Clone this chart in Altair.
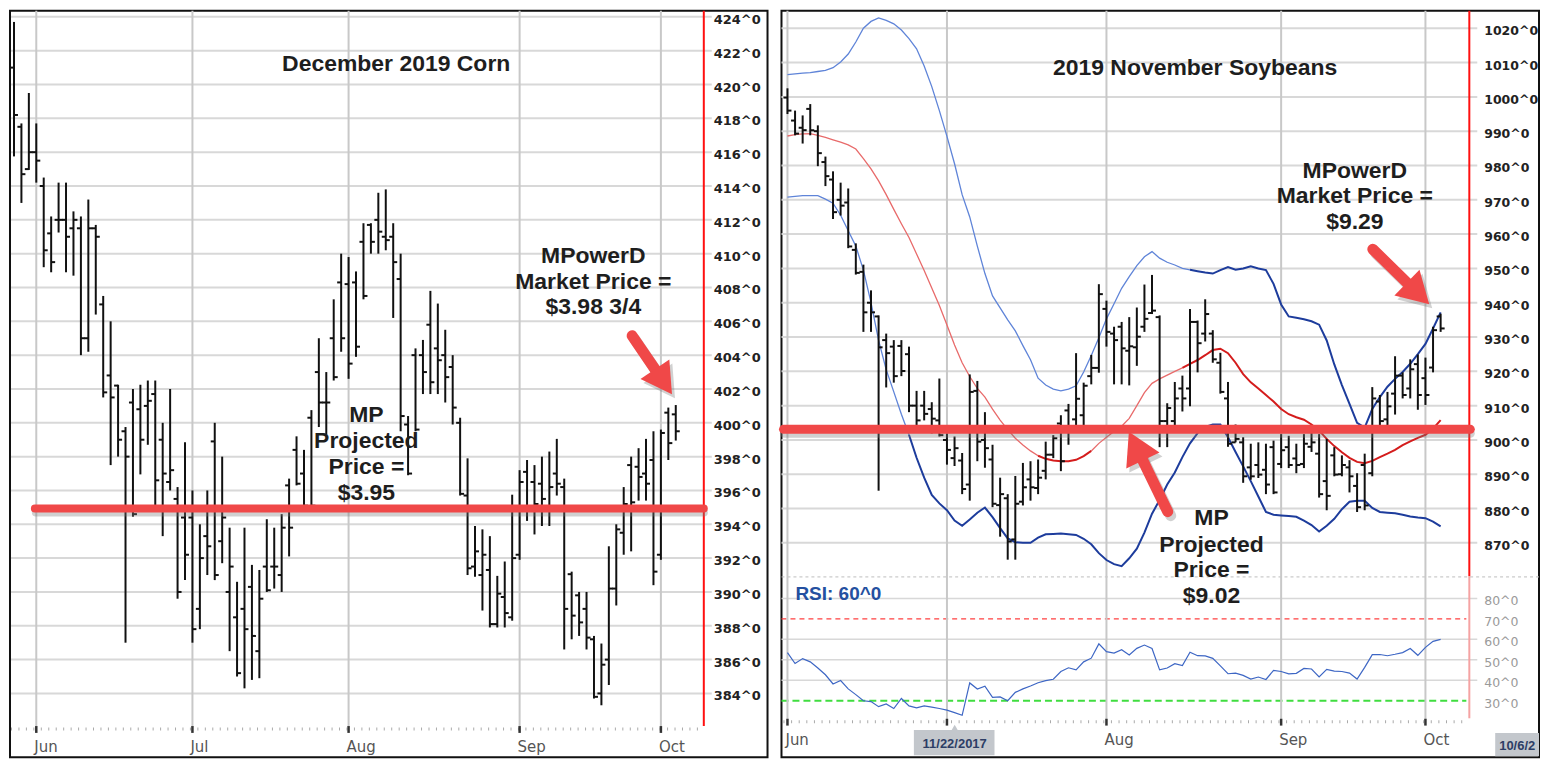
import math
import altair as alt
import pandas as pd

# ----------------------------------------------------------------- data
months = ["Jun", "Jul", "Aug", "Sep", "Oct"]
corn_month_pos = [3, 24, 45, 68, 87]
soy_month_pos = [0, 21, 42, 65, 84]
corn_price_ticks = list(range(384, 425, 2))
soy_price_ticks = list(range(870, 1021, 10))
rsi_ticks = [30, 40, 50, 60, 70, 80]
rsi_grid = [40, 50, 60, 80]
corn_projected = 394.93
soy_projected = 903.1

corn_open = [421.0, 417.5, 415.0, 416.0, 414.0, 411.2, 412.0, 412.0, 411.5, 411.5,
             405.0, 411.5, 407.0, 402.8, 402.2, 399.5, 401.2, 400.8, 401.0, 401.7,
             399.0, 396.5, 395.5, 394.4, 394.4, 389.0, 393.3, 398.9, 393.0, 390.0,
             388.5, 389.0, 390.3, 386.5, 391.5, 391.5, 391.0, 396.3, 398.4, 397.0,
             400.3, 403.0, 401.2, 405.0, 408.3, 408.2, 408.3, 410.7, 411.7, 412.0,
             411.0, 411.0, 408.5, 399.9, 404.0, 404.0, 405.8, 404.4, 404.0, 403.3,
             400.0, 395.7, 391.5, 391.0, 391.3, 388.1, 389.7, 388.5, 392.2, 397.1,
             396.5, 396.4, 395.0, 397.0, 396.2, 391.05, 389.8, 389.0, 387.2, 384.0,
             386.0, 390.2, 393.5, 397.5, 397.4, 397.0, 397.8, 392.2, 400.6, 400.5]
corn_high = [423.7, 417.7, 419.5, 417.7, 414.5, 412.2, 414.2, 414.2, 412.5, 412.2,
             413.2, 411.7, 407.5, 406.0, 402.25, 399.75, 402.0, 402.25, 402.5, 402.5,
             400.0, 402.0, 396.2, 398.85, 396.0, 394.0, 396.0, 400.0, 398.0, 393.8,
             390.6, 393.8, 391.6, 391.3, 394.3, 393.8, 394.6, 396.7, 399.2, 398.4,
             400.75, 405.0, 403.0, 407.3, 410.0, 409.8, 408.95, 411.8, 411.8, 413.6,
             413.8, 411.8, 410.0, 400.4, 404.4, 404.9, 407.8, 407.05, 405.5, 404.0,
             400.3, 397.9, 393.9, 393.7, 393.3, 390.95, 391.8, 395.75, 397.2, 397.8,
             397.5, 398.0, 398.3, 399.05, 396.7, 391.2, 390.0, 390.0, 387.4, 386.95,
             392.7, 394.0, 396.2, 398.0, 398.5, 399.05, 399.5, 399.6, 400.9, 401.05]
corn_low = [415.75, 413.0, 414.95, 414.2, 409.2, 408.9, 411.25, 408.9, 408.7, 404.0,
            404.2, 406.4, 401.5, 397.5, 398.0, 387.0, 394.45, 396.95, 398.7, 395.1,
            393.3, 396.0, 389.6, 390.7, 387.0, 387.8, 391.0, 390.7, 391.7, 386.5,
            385.0, 384.3, 384.8, 384.9, 390.0, 390.2, 390.0, 392.1, 396.3, 395.0,
            395.0, 399.75, 399.3, 402.5, 404.2, 402.6, 403.9, 407.3, 410.0, 410.0,
            410.2, 406.2, 399.5, 396.9, 399.5, 401.7, 401.7, 401.7, 401.2, 399.9,
            395.7, 391.0, 390.9, 388.9, 387.9, 387.9, 387.9, 388.3, 391.9, 394.2,
            393.4, 393.9, 393.9, 395.7, 386.6, 387.2, 387.4, 386.6, 383.7, 383.3,
            384.5, 389.2, 392.2, 392.4, 395.4, 395.4, 390.4, 391.9, 397.8, 398.95]
corn_close = [418.2, 414.7, 416.0, 415.5, 410.2, 409.5, 412.0, 411.0, 412.0, 405.0,
              411.5, 411.0, 401.8, 401.5, 399.0, 398.0, 394.6, 399.0, 401.3, 396.6,
              397.0, 397.2, 390.0, 392.2, 387.8, 392.0, 392.7, 391.0, 394.4, 391.5,
              385.2, 387.8, 387.4, 389.6, 390.1, 391.5, 393.8, 393.8, 396.4, 395.1,
              395.1, 401.2, 401.2, 402.7, 405.0, 403.5, 404.5, 407.5, 410.7, 411.3,
              410.8, 409.5, 400.4, 397.0, 399.6, 403.0, 402.4, 403.7, 402.7, 400.9,
              395.8, 391.4, 392.4, 392.2, 388.1, 389.9, 388.75, 392.0, 396.5, 395.0,
              395.2, 395.5, 396.2, 396.4, 389.0, 388.6, 388.2, 387.3, 383.8, 385.7,
              390.2, 393.7, 395.2, 395.3, 396.8, 396.4, 391.2, 399.4, 398.8, 399.5]

soy_open = [999.8, 993.1, 991.0, 996.5, 990.0, 981.0, 975.9, 970.0, 969.2, 955.4,
            949.0, 940.0, 936.0, 929.1, 927.2, 927.4, 925.0, 910.0, 910.0, 909.0,
            905.7, 900.0, 894.7, 894.0, 887.0, 914.3, 900.0, 894.3, 881.0, 883.0,
            871.0, 882.0, 888.5, 886.0, 891.0, 895.7, 904.8, 908.6, 906.0, 907.2,
            918.6, 921.0, 938.2, 931.0, 933.0, 926.0, 927.0, 933.0, 937.0, 935.8,
            905.5, 905.5, 915.0, 915.0, 934.4, 931.0, 931.0, 922.5, 912.1, 899.3,
            899.3, 892.0, 892.7, 891.3, 897.9, 893.0, 897.9, 894.6, 893.0, 898.0,
            896.0, 888.0, 895.5, 890.0, 892.0, 886.6, 892.7, 890.3, 911.2, 906.0,
            913.5, 918.75, 915.0, 922.1, 918.0, 921.1, 936.0]
soy_high = [1002.5, 996.0, 994.6, 997.9, 991.7, 982.6, 978.3, 975.0, 973.3, 957.3,
            951.1, 943.6, 936.3, 931.0, 929.1, 929.1, 927.2, 914.3, 914.3, 911.0,
            917.9, 901.9, 901.0, 896.2, 919.1, 917.2, 908.1, 898.6, 889.0, 884.2,
            889.5, 893.3, 893.8, 894.3, 899.5, 901.4, 907.2, 910.5, 925.3, 916.7,
            924.8, 945.4, 940.6, 933.0, 934.4, 935.8, 938.6, 945.3, 948.1, 936.3,
            910.7, 916.9, 918.75, 938.2, 934.8, 941.0, 932.0, 925.4, 916.9, 904.5,
            900.8, 898.9, 899.3, 898.9, 899.8, 901.7, 901.2, 898.9, 901.7, 903.1,
            901.7, 900.3, 897.9, 895.5, 894.1, 890.3, 896.0, 915.4, 913.1, 914.0,
            924.4, 919.7, 923.5, 924.9, 924.0, 933.0, 936.8]
soy_low = [995.0, 988.8, 986.4, 988.8, 979.8, 974.0, 964.4, 965.4, 955.9, 948.2,
           931.5, 931.5, 885.2, 915.3, 916.7, 918.6, 908.1, 902.4, 905.7, 901.9,
           901.0, 892.8, 892.4, 884.2, 882.3, 893.8, 891.9, 880.4, 871.8, 865.1,
           865.1, 880.9, 882.3, 884.2, 888.5, 894.7, 890.9, 898.6, 904.3, 904.3,
           916.2, 919.6, 927.2, 916.2, 916.2, 915.9, 921.6, 931.5, 936.7, 897.9,
           897.9, 904.1, 908.3, 909.8, 919.7, 928.7, 922.5, 913.5, 898.0, 899.3,
           887.5, 888.4, 888.9, 884.2, 884.2, 891.8, 891.8, 890.3, 891.8, 896.5,
           883.2, 879.5, 889.4, 889.4, 884.7, 879.0, 879.5, 889.4, 904.1, 904.1,
           907.4, 912.1, 912.1, 908.8, 910.2, 919.7, 931.5]
soy_close = [996.0, 989.3, 990.3, 990.3, 983.6, 976.9, 966.4, 968.3, 956.4, 948.7,
             937.2, 937.2, 927.0, 925.3, 918.6, 920.1, 910.0, 905.7, 907.6, 906.2,
             901.4, 897.1, 897.6, 885.7, 914.0, 899.5, 897.6, 881.4, 884.2, 870.4,
             881.4, 886.2, 886.2, 889.0, 895.7, 900.5, 893.8, 903.8, 912.0, 915.8,
             921.0, 942.5, 931.5, 929.1, 926.7, 927.3, 930.1, 935.3, 937.7, 905.5,
             909.3, 912.1, 912.1, 934.4, 928.2, 936.7, 923.5, 914.0, 898.9, 900.3,
             889.4, 889.4, 889.9, 887.0, 884.7, 897.0, 892.7, 892.7, 898.9, 899.3,
             884.2, 883.7, 889.9, 892.7, 889.4, 880.4, 880.9, 912.1, 905.5, 909.8,
             918.75, 913.1, 920.6, 913.1, 913.1, 932.0, 932.5]

soy_upper = [1006.5, 1006.7, 1006.9, 1007.1, 1007.4, 1007.7, 1008.5, 1010.2, 1012.5, 1016.0,
             1020.0, 1022.0, 1023.0, 1022.3, 1021.3, 1019.5, 1017.0, 1014.0, 1009.0, 1003.0,
             996.0, 988.5, 980.5, 971.5, 965.0, 956.5, 948.5, 942.0, 938.5, 935.0,
             931.8, 927.5, 923.4, 918.0, 916.0, 914.8, 914.3, 914.8, 915.8, 919.8,
             924.6, 929.8, 935.3, 939.7, 944.2, 947.6, 950.8, 953.4, 954.9, 953.0,
             951.8, 951.0, 950.0, 949.6, 949.2, 948.8, 948.5, 949.5, 950.4, 949.6,
             950.0, 950.6, 950.0, 949.5, 945.5, 939.5, 936.0, 935.6, 935.2, 934.6,
             933.6, 929.0, 922.0, 916.0, 910.5, 905.0, 903.6, 909.0, 912.5, 915.5,
             917.8, 919.8, 922.2, 925.0, 928.0, 932.5, 937.2]
soy_mid = [988.6, 989.0, 989.2, 989.3, 988.8, 988.2, 987.5, 986.8, 986.0, 984.8,
           982.0, 979.0, 975.5, 971.5, 967.2, 963.0, 959.0, 954.2, 949.4, 944.3,
           939.2, 933.5, 927.7, 922.5, 918.5, 915.0, 912.5, 909.0, 905.8, 903.0,
           900.5, 898.5, 896.8, 895.4, 894.5, 894.0, 893.8, 893.8, 894.2, 895.3,
           896.8, 899.0, 900.8, 902.5, 904.0, 906.3, 910.0, 913.8, 916.5, 917.8,
           918.9, 920.0, 921.0, 922.2, 923.3, 924.7, 926.2, 926.6, 925.3, 922.5,
           919.2, 916.8, 915.0, 913.1, 911.2, 909.0, 907.5, 906.6, 905.9, 904.5,
           902.7, 900.3, 898.2, 896.4, 894.8, 893.6, 893.2, 893.9, 895.0, 896.0,
           897.1, 898.5, 899.6, 900.6, 901.5, 903.3, 905.8]
soy_lower = [970.8, 971.0, 971.2, 971.2, 971.2, 970.2, 969.0, 965.5, 961.0, 956.5,
             949.5, 940.0, 929.0, 920.5, 914.0, 907.5, 901.5, 894.8, 889.0, 884.0,
             881.5, 879.5, 876.5, 875.0, 876.8, 878.8, 880.3, 877.5, 874.3, 871.3,
             870.2, 870.0, 870.0, 871.5, 872.5, 872.6, 872.7, 872.5, 872.3, 871.2,
             869.6, 867.0, 865.0, 863.8, 863.2, 865.5, 868.3, 873.0, 878.5, 882.5,
             887.0, 890.5, 895.0, 899.0, 902.0, 903.8, 904.5, 904.5, 900.8, 896.5,
             892.3, 888.0, 883.5, 879.0, 878.2, 878.0, 877.8, 877.6, 876.5, 875.2,
             873.3, 875.0, 877.0, 879.8, 882.0, 882.3, 882.3, 880.2, 879.0, 878.8,
             878.6, 878.2, 877.7, 877.4, 877.2, 876.2, 874.8]
soy_rsi = [53.5, 48.2, 50.6, 49.0, 46.0, 42.7, 38.2, 39.9, 35.8, 33.0,
           30.0, 29.6, 27.1, 28.4, 26.2, 31.1, 27.5, 26.5, 27.5, 26.9,
           26.2, 25.4, 24.2, 22.9, 38.7, 35.7, 37.1, 31.7, 31.9, 30.0,
           34.1, 35.8, 37.2, 38.8, 39.8, 40.5, 44.3, 46.1, 45.1, 49.0,
           50.8, 57.8, 54.0, 53.3, 54.9, 52.4, 55.6, 57.2, 55.5, 45.1,
           46.0, 48.1, 47.2, 53.7, 52.0, 51.9, 50.7, 47.0, 43.2, 43.5,
           42.4, 40.6, 41.6, 40.4, 44.8, 44.3, 43.1, 43.4, 45.8, 45.5,
           41.6, 45.3, 44.5, 44.3, 43.5, 40.6, 46.3, 52.5, 52.6, 52.0,
           52.7, 53.5, 55.5, 52.2, 56.1, 59.0, 60.0]

corn_title = "December 2019 Corn"
corn_market = ["MPowerD", "Market Price =", "$3.98 3/4"]
corn_proj_txt = ["MP", "Projected", "Price =", "$3.95"]
soy_title = "2019 November Soybeans"
soy_market = ["MPowerD", "Market Price =", "$9.29"]
soy_proj_txt = ["MP", "Projected", "Price =", "$9.02"]
rsi_label = "RSI: 60^0"
cursor_dates = ["11/22/2017", "10/6/2"]

# ----------------------------------------------------------------- layout helpers
W, H = 759, 748
SY = H / 766.0


def lx(px):
    return (px - 9.0) / 7.47


def ly(py):
    return 424.0 - (py - 8.3) / 17.355


def rx(px):
    return (px - 782.0) / 7.63


def ry(py):
    return 1020.0 - (py - 20.0) / 3.52


RSI_A = ry(626 + 70 * 2.1)
RSI_B = 2.1 / 3.52
RSI_EXPR = f"{RSI_A} + {RSI_B} * datum.r"

SXL = alt.Scale(domain=[lx(5), lx(766)], nice=False, zero=False)
SYL = alt.Scale(domain=[ly(768), ly(2)], nice=False, zero=False)
SXR = alt.Scale(domain=[rx(776), rx(1537)], nice=False, zero=False)
SYR = alt.Scale(domain=[ry(768), ry(2)], nice=False, zero=False)

ARROW = "#f04848"
FONT = "Liberation Sans"
TXT = "#1e1e1e"
one = pd.DataFrame({"k": [0]})


def XD(v, s):
    return alt.X(datum=float(v), scale=s, axis=None)


def YD(v, s):
    return alt.Y(datum=float(v), scale=s, axis=None)


def hrule(values, sx, sy, x1, x2, calc=None, **mk):
    df = pd.DataFrame({"r": values})
    ch = alt.Chart(df)
    field = "r:Q"
    if calc:
        ch = ch.transform_calculate(p=calc)
        field = "p:Q"
    return ch.mark_rule(**mk).encode(x=XD(x1, sx), x2=alt.X2(datum=float(x2)),
                                     y=alt.Y(field, scale=sy, axis=None))


def vrule(values, sx, sy, y1, y2, **mk):
    df = pd.DataFrame({"i": values})
    return alt.Chart(df).mark_rule(**mk).encode(x=alt.X("i:Q", scale=sx, axis=None),
                                                y=YD(y1, sy), y2=alt.Y2(datum=float(y2)))


def seg(sx, sy, x1, x2, y1, y2=None, **mk):
    enc = dict(x=XD(x1, sx), y=YD(y1, sy))
    if x2 is not None:
        enc["x2"] = alt.X2(datum=float(x2))
    if y2 is not None:
        enc["y2"] = alt.Y2(datum=float(y2))
    return alt.Chart(one).mark_rule(**mk).encode(**enc)


def texts(rows, sx, sy, size, color=TXT, weight="bold", align="center", font=FONT):
    df = pd.DataFrame(rows, columns=["i", "v", "t"])
    return alt.Chart(df).mark_text(font=font, fontWeight=weight, fontSize=size, color=color,
                                   align=align, baseline="middle").encode(
        x=alt.X("i:Q", scale=sx, axis=None), y=alt.Y("v:Q", scale=sy, axis=None), text="t:N")


def y_labels(values, sx, sy, xpos, size, color, weight, calc=None):
    df = pd.DataFrame({"r": values})
    ch = alt.Chart(df).transform_calculate(t="datum.r + '^0'")
    field = "r:Q"
    if calc:
        ch = ch.transform_calculate(p=calc)
        field = "p:Q"
    return ch.mark_text(font="DejaVu Sans", fontWeight=weight, fontSize=size, color=color,
                        align="left", baseline="middle", dy=3).encode(
        x=XD(xpos, sx), y=alt.Y(field, scale=sy, axis=None), text="t:N")


def month_labels(pos, sx, sy, ylab, ytick0, ytick1):
    df = pd.DataFrame({"i": pos, "m": months})
    ticks = alt.Chart(df).mark_rule(color="#333", strokeWidth=2.5).encode(
        x=alt.X("i:Q", scale=sx, axis=None), y=YD(ytick0, sy), y2=alt.Y2(datum=float(ytick1)))
    labs = alt.Chart(df).mark_text(font="DejaVu Sans", fontSize=15, color="#555", align="left",
                                   baseline="middle", dx=-2).encode(
        x=alt.X("i:Q", scale=sx, axis=None), y=YD(ylab, sy), text="m:N")
    return [ticks, labs]


def arrow(tail, tip, head_w, fx, fy, sx, sy):
    (x0, y0), (x1, y1) = tail, tip
    dx, dy = x1 - x0, (y1 - y0) * SY
    Ln = math.hypot(dx, dy)
    ux, uy = dx / Ln, dy / Ln
    hl = 0.866 * head_w
    cx, cy = x1 - ux * hl / 2, y1 - uy * hl / 2 / SY
    ex, ey = x1 - ux * (hl - 6), y1 - uy * (hl - 6) / SY
    ang = math.degrees(math.atan2(ux, -uy)) % 360
    df = pd.DataFrame({"i1": [fx(x0)], "v1": [fy(y0)], "i2": [fx(ex)], "v2": [fy(ey)],
                       "ic": [fx(cx)], "vc": [fy(cy)], "ang": [ang], "sz": [head_w ** 2]})
    enc_r = dict(x=alt.X("i1:Q", scale=sx, axis=None), y=alt.Y("v1:Q", scale=sy, axis=None),
                 x2="i2:Q", y2="v2:Q")
    enc_p = dict(x=alt.X("ic:Q", scale=sx, axis=None), y=alt.Y("vc:Q", scale=sy, axis=None),
                 angle=alt.Angle("ang:Q", scale=None), size=alt.Size("sz:Q", scale=None))
    base = alt.Chart(df)
    return [
        base.mark_rule(color="#666", opacity=0.3, strokeWidth=11, strokeCap="round",
                       xOffset=3, yOffset=4, x2Offset=3, y2Offset=4).encode(**enc_r),
        base.mark_point(shape="triangle-up", filled=True, color="#666", opacity=0.3,
                        xOffset=3, yOffset=4).encode(**enc_p),
        base.mark_rule(color=ARROW, strokeWidth=11, strokeCap="round").encode(**enc_r),
        base.mark_point(shape="triangle-up", filled=True, color=ARROW, opacity=1).encode(**enc_p),
    ]


def ohlc(df, sx, sy):
    bars = alt.Chart(df).mark_rule(color="#111", strokeWidth=2).encode(
        x=alt.X("i:Q", scale=sx, axis=None), y=alt.Y("l:Q", scale=sy, axis=None), y2="h:Q")
    op = alt.Chart(df).mark_tick(orient="horizontal", color="#111", size=4, thickness=2,
                                 xOffset=-2, opacity=1).encode(
        x=alt.X("i:Q", scale=sx, axis=None), y=alt.Y("o:Q", scale=sy, axis=None))
    cl = alt.Chart(df).mark_tick(orient="horizontal", color="#111", size=4, thickness=2,
                                 xOffset=2, opacity=1).encode(
        x=alt.X("i:Q", scale=sx, axis=None), y=alt.Y("c:Q", scale=sy, axis=None))
    return [bars, op, cl]


# ----------------------------------------------------------------- left panel (corn)
corn = pd.DataFrame({"i": list(range(len(corn_open))), "o": corn_open, "h": corn_high,
                     "l": corn_low, "c": corn_close})

L = []
L.append(hrule(corn_price_ticks, SXL, SYL, lx(6), lx(710), color="#d8d8d8", strokeWidth=2))
L.append(vrule(corn_month_pos, SXL, SYL, ly(2), ly(737), color="#c8c8c8", strokeWidth=2))
L.append(seg(SXL, SYL, lx(6), lx(700), ly(739), color="#aaa", strokeWidth=3, strokeDash=[1, 6.47]))
L += month_labels(corn_month_pos, SXL, SYL, ly(757), ly(736), ly(743))
L.append(seg(SXL, SYL, lx(702), None, ly(2), ly(736), color="#ff1010", strokeWidth=2))
L += ohlc(corn, SXL, SYL)
L.append(seg(SXL, SYL, lx(30), lx(702), corn_projected, color="#777", opacity=0.35, strokeWidth=8,
             strokeCap="round", yOffset=4, xOffset=1))
L.append(seg(SXL, SYL, lx(30), lx(702), corn_projected, color=ARROW, strokeWidth=8, strokeCap="round"))
L.append(y_labels(corn_price_ticks, SXL, SYL, lx(712), 13, "#222", "bold"))
L.append(texts([(lx(393), ly(57), corn_title)], SXL, SYL, 23))
L.append(texts([(lx(591), ly(y), t) for y, t in zip([254, 280, 306], corn_market)], SXL, SYL, 23))
L.append(texts([(lx(363), ly(y), t) for y, t in zip([417, 444, 470, 497], corn_proj_txt)], SXL, SYL, 23))
L += arrow((630, 335.5), (670, 395.5), 35, lx, ly, SXL, SYL)

left = alt.layer(*L).properties(width=W, height=H)

# ----------------------------------------------------------------- right panel (soybeans)
soy = pd.DataFrame({"i": list(range(len(soy_open))), "o": soy_open, "h": soy_high,
                    "l": soy_low, "c": soy_close})
bands = pd.DataFrame({"i": list(range(len(soy_upper))), "up": soy_upper, "mid": soy_mid,
                      "lo": soy_lower})
rsi = pd.DataFrame({"i": list(range(len(soy_rsi))), "r": soy_rsi})


def band(col, cond, color, width):
    return alt.Chart(bands).transform_filter(cond).mark_line(color=color, strokeWidth=width).encode(
        x=alt.X("i:Q", scale=SXR, axis=None), y=alt.Y(f"{col}:Q", scale=SYR, axis=None))


BL_L, BL_D, RD_L, RD_D = "#5f84d8", "#1d3c9c", "#e86a6a", "#d41c1c"

R = []
R.append(hrule(soy_price_ticks, SXR, SYR, rx(776), rx(1475), color="#d8d8d8", strokeWidth=2))
R.append(hrule(rsi_grid, SXR, SYR, rx(776), rx(1475), calc=RSI_EXPR, color="#d8d8d8", strokeWidth=1.5))
R.append(hrule([90.5], SXR, SYR, rx(776), rx(1537), calc=RSI_EXPR, color="#bdbdbd", strokeWidth=1,
               strokeDash=[3, 3]))
R.append(hrule([70], SXR, SYR, rx(776), rx(1464), calc=RSI_EXPR, color="#ff4040", strokeWidth=1.3,
               strokeDash=[5, 4]))
R.append(hrule([30], SXR, SYR, rx(776), rx(1464), calc=RSI_EXPR, color="#40dd40", strokeWidth=2,
               strokeDash=[7, 4]))
R.append(vrule(soy_month_pos, SXR, SYR, ry(2), ry(729), color="#c8c8c8", strokeWidth=2))
R.append(seg(SXR, SYR, rx(778), rx(1465), ry(731.5), color="#aaa", strokeWidth=3, strokeDash=[1, 6.63]))
R += month_labels(soy_month_pos, SXR, SYR, ry(750), ry(728.5), ry(735.5))
R.append(seg(SXR, SYR, rx(1467), None, ry(2), ry(582), color="#ff1010", strokeWidth=2))
R.append(seg(SXR, SYR, rx(1467), None, ry(582), ry(728), color="#f5a3a3", strokeWidth=2))
R.append(band("up", "datum.i <= 53", BL_L, 1.3))
R.append(band("up", "datum.i >= 53", BL_D, 2))
R.append(band("lo", "datum.i <= 16", BL_L, 1.3))
R.append(band("lo", "datum.i >= 16", BL_D, 2))
R.append(band("mid", "datum.i <= 33", RD_L, 1.3))
R.append(band("mid", "datum.i >= 33 && datum.i <= 40", RD_D, 2))
R.append(band("mid", "datum.i >= 40 && datum.i <= 52", RD_L, 1.3))
R.append(band("mid", "datum.i >= 52", RD_D, 2))
R += ohlc(soy, SXR, SYR)
R.append(alt.Chart(rsi).transform_calculate(p=RSI_EXPR).mark_line(color="#3d66c4", strokeWidth=1.2).encode(
    x=alt.X("i:Q", scale=SXR, axis=None), y=alt.Y("p:Q", scale=SYR, axis=None)))
R.append(seg(SXR, SYR, rx(778), rx(1468), soy_projected, color="#777", opacity=0.35, strokeWidth=9,
             strokeCap="round", yOffset=4, xOffset=1))
R.append(seg(SXR, SYR, rx(778), rx(1468), soy_projected, color=ARROW, strokeWidth=9, strokeCap="round"))
R.append(y_labels(soy_price_ticks, SXR, SYR, rx(1482), 12.5, "#222", "bold"))
R.append(y_labels(rsi_ticks, SXR, SYR, rx(1482), 12.5, "#9a9a9a", "normal", calc=RSI_EXPR))
R.append(texts([(rx(1191.5), ry(61), soy_title)], SXR, SYR, 23))
R.append(texts([(rx(1352), ry(y), t) for y, t in zip([166, 192, 219], soy_market)], SXR, SYR, 23))
R.append(texts([(rx(1208), ry(y), t) for y, t in zip([523, 550, 576, 603], soy_proj_txt)], SXR, SYR, 23))
R.append(texts([(rx(790), ry(601), rsi_label)], SXR, SYR, 19, color="#2450a0", align="left"))
R += arrow((1370, 246.7), (1426.7, 303.3), 36, rx, ry, SXR, SYR)
R += arrow((1164, 516), (1125, 434), 37, rx, ry, SXR, SYR)

boxes = pd.DataFrame({"a": [rx(909), rx(1493)], "b": [rx(990), rx(1537)],
                      "y1": [ry(740), ry(743)], "y2": [ry(766), ry(767)]})
R.append(alt.Chart(boxes).mark_rect(color="#c3c7cc").encode(
    x=alt.X("a:Q", scale=SXR, axis=None), x2="b:Q", y=alt.Y("y1:Q", scale=SYR, axis=None), y2="y2:Q"))
R.append(alt.Chart(pd.DataFrame({"i": [rx(950)], "v": [ry(738)]})).mark_point(
    shape="triangle-up", filled=True, color="#c3c7cc", opacity=1, size=60).encode(
    x=alt.X("i:Q", scale=SXR, axis=None), y=alt.Y("v:Q", scale=SYR, axis=None)))
R.append(texts([(rx(950), ry(754), cursor_dates[0])], SXR, SYR, 13, color="#2d3e66"))
R.append(texts([(rx(1497), ry(756), cursor_dates[1])], SXR, SYR, 13, color="#2d3e66", align="left"))

right = alt.layer(*R).properties(width=W, height=H)

chart = (alt.hconcat(left, right, spacing=9)
         .properties(padding=0, background="white")
         .configure_view(stroke="#111", strokeWidth=2))

chart.save("out.html", embed_options={"renderer": "svg", "actions": False})
